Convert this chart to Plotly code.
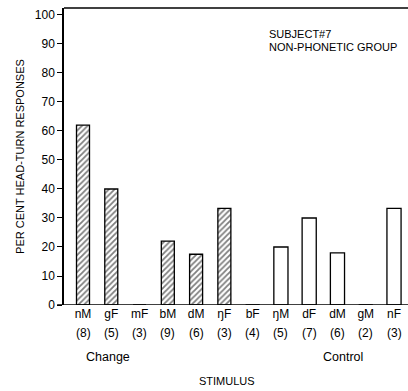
import plotly.graph_objects as go

# Stimulus categories, trial counts and per cent head-turn responses
stimuli = ["nM", "gF", "mF", "bM", "dM", "ŋF", "bF", "ŋM", "dF", "dM", "gM", "nF"]
counts = [8, 5, 3, 9, 6, 3, 4, 5, 7, 6, 2, 3]
responses = [62, 40, 0, 22, 17.5, 33.3, 0, 20, 30, 18, 0, 33.3]
conditions = ["Change"] * 6 + ["Control"] * 6
caption = ["SUBJECT#7", "NON-PHONETIC GROUP"]

FONT = "Liberation Sans, Arial, Helvetica, sans-serif"

pos = list(range(len(stimuli)))
chg_x = [p for p, c in zip(pos, conditions) if c == "Change"]
chg_y = [v for v, c in zip(responses, conditions) if c == "Change"]
ctl_x = [p for p, c in zip(pos, conditions) if c == "Control"]
ctl_y = [v for v, c in zip(responses, conditions) if c == "Control"]

fig = go.Figure()
fig.add_trace(go.Bar(
    x=chg_x, y=chg_y, width=0.46,
    marker=dict(color="white", line=dict(color="black", width=1.3),
                pattern=dict(shape="/", fgcolor="black", bgcolor="white",
                             size=4, solidity=0.45)),
    showlegend=False,
))
fig.add_trace(go.Bar(
    x=ctl_x, y=ctl_y, width=0.5,
    marker=dict(color="white", line=dict(color="black", width=1.3)),
    showlegend=False,
))

# trial counts under each stimulus label
for p, n in zip(pos, counts):
    fig.add_annotation(x=p, y=0, yref="y", text=f"({n})", showarrow=False,
                       yshift=-28, yanchor="middle",
                       font=dict(family=FONT, size=12, color="black"))

fig.add_annotation(x=0.9, y=0, text="Change", showarrow=False, yshift=-52,
                   yanchor="middle", font=dict(family=FONT, size=12.5, color="black"))
fig.add_annotation(x=9.2, y=0, text="Control", showarrow=False, yshift=-52,
                   yanchor="middle", font=dict(family=FONT, size=12.5, color="black"))
fig.add_annotation(x=5.1, y=0, text="STIMULUS", showarrow=False, yshift=-76,
                   yanchor="middle", font=dict(family=FONT, size=11, color="black"))

# subject / group caption, placed in plot-area fractions
plot_left, plot_right, plot_top, plot_bottom = 64, 408, 8, 305
for text, ypix in zip(caption, [34, 47]):
    fig.add_annotation(
        x=(267 - plot_left) / (plot_right - plot_left),
        y=(plot_bottom - ypix) / (plot_bottom - plot_top),
        xref="paper", yref="paper", text=text, showarrow=False,
        xanchor="left", yanchor="middle",
        font=dict(family=FONT, size=11, color="black"),
    )

# top border and extended baseline
fig.add_shape(type="line", xref="paper", yref="paper", x0=0, x1=1, y0=1, y1=1,
              line=dict(color="black", width=1.5))
fig.add_shape(type="line", xref="paper", yref="y", x0=-0.02, x1=1, y0=0, y1=0,
              line=dict(color="black", width=1.5))

fig.update_layout(
    width=408, height=391,
    margin=dict(l=plot_left, r=0, t=plot_top, b=391 - plot_bottom),
    paper_bgcolor="white", plot_bgcolor="white",
    font=dict(family=FONT, color="black"),
    xaxis=dict(
        range=[-0.672, 11.495], tickmode="array", tickvals=pos, ticktext=stimuli,
        showgrid=False, zeroline=False, showline=False, ticks="",
        tickfont=dict(family=FONT, size=12, color="black"),
    ),
    yaxis=dict(
        range=[0, 102.4], tickvals=list(range(0, 101, 10)),
        showgrid=False, zeroline=False, showline=True, linecolor="black",
        linewidth=1.5, ticks="outside", ticklen=5, tickwidth=1.2,
        tickcolor="black", tickfont=dict(family=FONT, size=12, color="black"),
        title=dict(text="PER CENT HEAD-TURN RESPONSES", standoff=8,
                   font=dict(family=FONT, size=11, color="black")),
    ),
)

fig.write_html("out.html")
